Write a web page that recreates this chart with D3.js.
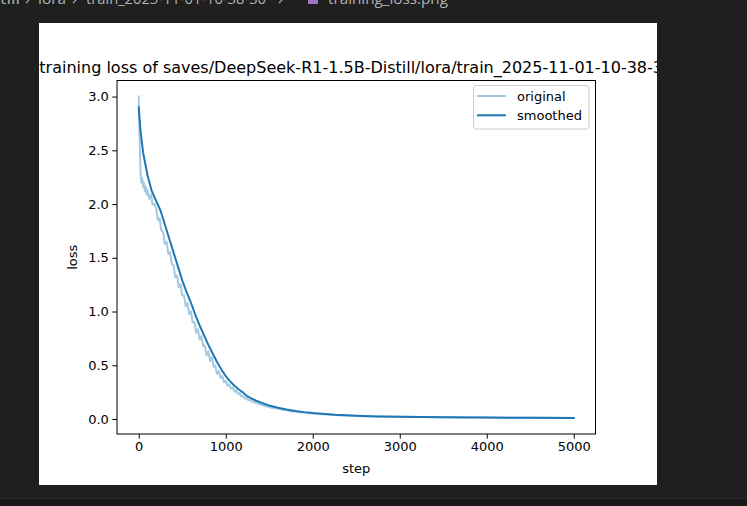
<!DOCTYPE html>
<html>
<head>
<meta charset="utf-8">
<script src="https://cdn.jsdelivr.net/npm/d3@7"></script>
<style>
html,body{margin:0;padding:0;background:#1f1f1f;overflow:hidden;}
svg{display:block;}
</style>
</head>
<body>
<svg id="chart" width="747" height="506"></svg>
<script>
// ---- data ----
const titleText = "training loss of saves/DeepSeek-R1-1.5B-Distill/lora/train_2025-11-01-10-38-30";
const breadcrumbParts = ["till", "lora", "train_2025-11-01-10-38-30", "training_loss.png"];
const xTicks = [0, 1000, 2000, 3000, 4000, 5000];
const yTicks = [0.0, 0.5, 1.0, 1.5, 2.0, 2.5, 3.0];
const seriesNames = ["original", "smoothed"];

const originalSteps = [0,10,20,30,40,50,60,70,80,90,100,120,140,160,180,200,220,240,260,280,300,320,340,360,380,400,420,440,460,480,500,520,540,560,580,600,620,640,660,680,700,720,740,760,780,800,820,840,860,880,900,920,940,960,980,1000,1020,1040,1060,1080,1100,1120,1140,1160,1180,1200,1220,1240,1260,1280,1300,1320,1340,1360,1380,1400,1420,1440,1460,1480,1500,1550,1600,1650,1700,1750,1800,1850,1900,1950,2000,2100,2200,2300,2400,2500,2750,3000,3250,3500,3750,4000,4250,4500,4750,5000];
const originalLoss = [3.00,2.62,2.30,2.20,2.24,2.16,2.20,2.12,2.16,2.09,2.133,2.047,2.09,1.995,2.00,1.96,1.848,1.866,1.754,1.742,1.63,1.648,1.536,1.554,1.442,1.43,1.318,1.336,1.228,1.254,1.15,1.15,1.05,1.078,0.974,1.00,0.90,0.90,0.802,0.836,0.74,0.774,0.678,0.684,0.592,0.63,0.538,0.576,0.486,0.498,0.42,0.446,0.382,0.40,0.345,0.355,0.309,0.323,0.283,0.294,0.255,0.266,0.233,0.241,0.208,0.213,0.188,0.196,0.174,0.18,0.16,0.166,0.149,0.154,0.138,0.142,0.127,0.13,0.117,0.12,0.11,0.102,0.098,0.085,0.082,0.071,0.07,0.061,0.06,0.053,0.052,0.045,0.041,0.036,0.033,0.028,0.023,0.020,0.018,0.016,0.014,0.013,0.012,0.011,0.011,0.010];

const smoothedSteps = [0,20,50,100,150,200,250,300,350,400,450,500,550,600,650,700,750,800,850,900,950,1000,1050,1100,1150,1200,1250,1300,1350,1400,1450,1500,1600,1700,1800,1900,2000,2250,2500,2750,3000,3250,3500,4000,4500,5000];
const smoothedLoss = [2.90,2.68,2.48,2.27,2.12,2.03,1.94,1.81,1.68,1.55,1.42,1.29,1.18,1.08,0.97,0.87,0.78,0.69,0.61,0.53,0.46,0.40,0.35,0.31,0.275,0.245,0.21,0.19,0.17,0.155,0.14,0.125,0.105,0.088,0.075,0.064,0.055,0.040,0.030,0.024,0.020,0.018,0.016,0.013,0.011,0.010];

// ---- drawing ----
const svg = d3.select("#chart");
const W = 747, H = 506;
const font = "'DejaVu Sans', sans-serif";

// editor chrome
svg.append("rect").attr("x",0).attr("y",0).attr("width",W).attr("height",H).attr("fill","#1f1f1f");
svg.append("rect").attr("x",0).attr("y",498).attr("width",W).attr("height",8).attr("fill","#181818");
svg.append("line").attr("x1",0).attr("x2",W).attr("y1",498.5).attr("y2",498.5).attr("stroke","#2b2b2b").attr("stroke-width",1);

// breadcrumb
const bc = svg.append("g").attr("font-family","'Open Sans', 'Noto Sans', sans-serif").attr("font-size",14.5).attr("fill","#b0b0b0");
const bcX = [0, 38, 86, 328];
const bcLen = [20, 28, 180, 120];
breadcrumbParts.forEach((t,i)=>{
  bc.append("text").attr("x",bcX[i]).attr("y",3.5).attr("textLength",bcLen[i]).attr("lengthAdjust","spacingAndGlyphs").text(t);
});
[26, 73, 279].forEach(xx=>{
  bc.append("path").attr("d",`M${xx},-4 L${xx+3.5},-0.5 L${xx},3`).attr("fill","none").attr("stroke","#b0b0b0").attr("stroke-width",1.1);
});
svg.append("rect").attr("x",308).attr("y",-6).attr("width",10).attr("height",10).attr("fill","#a074c4");

// image area
const imgX = 39, imgY = 23, imgW = 618, imgH = 462;
svg.append("rect").attr("x",imgX).attr("y",imgY).attr("width",imgW).attr("height",imgH).attr("fill","#ffffff");
svg.append("clipPath").attr("id","imgclip").append("rect").attr("x",imgX).attr("y",imgY).attr("width",imgW).attr("height",imgH);

const L = 117, R = 595.5, T = 80.5, B = 434;
const xMin = d3.min([...originalSteps, ...smoothedSteps]), xMax = d3.max([...originalSteps, ...smoothedSteps]);
const yMin = d3.min([...originalLoss, ...smoothedLoss]), yMax = d3.max([...originalLoss, ...smoothedLoss]);
const xPad = (xMax - xMin) * 0.05, yPad = (yMax - yMin) * 0.05;
const x = d3.scaleLinear().domain([xMin - xPad, xMax + xPad]).range([L, R]);
const y = d3.scaleLinear().domain([yMin - yPad, yMax + yPad]).range([B, T]);

const g = svg.append("g").attr("clip-path","url(#imgclip)");

// title
g.append("text").attr("x",(L+R)/2).attr("y",72.5).attr("text-anchor","middle")
  .attr("font-family",font).attr("font-size",16).attr("fill","#000").text(titleText);

// lines
const line = d3.line().x(d=>x(d[0])).y(d=>y(d[1]));
const origData = originalSteps.map((s,i)=>[s, originalLoss[i]]);
const smData = smoothedSteps.map((s,i)=>[s, smoothedLoss[i]]);
svg.append("clipPath").attr("id","plotclip").append("rect").attr("x",L).attr("y",T).attr("width",R-L).attr("height",B-T);
const pg = g.append("g").attr("clip-path","url(#plotclip)");
pg.append("path").datum(origData).attr("d",line).attr("fill","none").attr("stroke","#1f77b4").attr("stroke-opacity",0.4).attr("stroke-width",2).attr("stroke-linejoin","round").attr("stroke-linecap","square");
pg.append("path").datum(smData).attr("d",line).attr("fill","none").attr("stroke","#1f77b4").attr("stroke-width",2).attr("stroke-linejoin","round").attr("stroke-linecap","square");

// axes
const tickLen = 4.7;
const xAxis = d3.axisBottom(x).tickValues(xTicks).tickFormat(d3.format("d")).tickSize(tickLen).tickPadding(3.5);
const yAxis = d3.axisLeft(y).tickValues(yTicks).tickFormat(d3.format(".1f")).tickSize(tickLen).tickPadding(3.5);
const gx = g.append("g").attr("transform",`translate(0,${B})`).call(xAxis);
const gy = g.append("g").attr("transform",`translate(${L},0)`).call(yAxis);
[gx, gy].forEach(a=>{
  a.select(".domain").remove();
  a.selectAll(".tick line").attr("stroke","#000").attr("stroke-width",1);
  a.selectAll(".tick text").attr("font-family",font).attr("font-size",13).attr("fill","#000");
});

// spines
g.append("rect").attr("x",L).attr("y",T).attr("width",R-L).attr("height",B-T).attr("fill","none").attr("stroke","#000").attr("stroke-width",1);

// axis labels
g.append("text").attr("x",(L+R)/2).attr("y",473).attr("text-anchor","middle").attr("font-family",font).attr("font-size",13).attr("fill","#000").text("step");
g.append("text").attr("transform",`translate(77,${(T+B)/2}) rotate(-90)`).attr("text-anchor","middle").attr("font-family",font).attr("font-size",13).attr("fill","#000").text("loss");

// legend
const lg = g.append("g");
lg.append("rect").attr("x",473.5).attr("y",85.5).attr("width",115.5).attr("height",43.5).attr("rx",2.5)
  .attr("fill","#fff").attr("fill-opacity",0.8).attr("stroke","#cccccc").attr("stroke-width",1);
seriesNames.forEach((name,i)=>{
  const ly = 96 + i*19.3;
  lg.append("line").attr("x1",477).attr("x2",506).attr("y1",ly).attr("y2",ly)
    .attr("stroke","#1f77b4").attr("stroke-opacity", i===0?0.4:1).attr("stroke-width",2);
  lg.append("text").attr("x",517).attr("y",ly+4.6).attr("font-family",font).attr("font-size",13).attr("fill","#000").text(name);
});
</script>
</body>
</html>
